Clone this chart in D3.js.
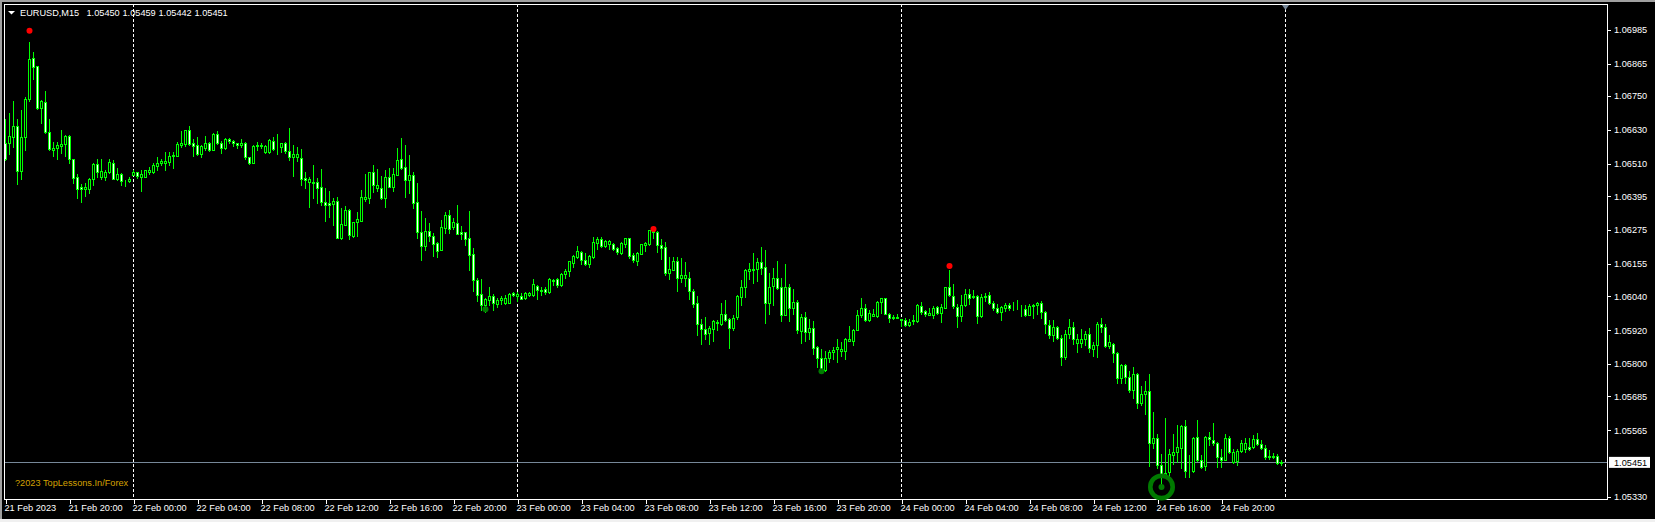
<!DOCTYPE html>
<html><head><meta charset="utf-8">
<script src="https://cdn.jsdelivr.net/npm/d3@7"></script>
<style>html,body{margin:0;padding:0;background:#000;overflow:hidden}svg{display:block}text{font-family:"Liberation Sans",Arial,sans-serif;font-size:9.2px;fill:#fff}</style>
</head><body><svg id="c" width="1655" height="522"></svg>
<script>
// EURUSD M15 prices, in points after 1.00000 (6585 = 1.06585)
const opens=[6585,6584,6604,6645,6485,6605,6739,6883,6855,6708,6727,6621,6559,6566,6573,6580,6608,6525,6461,6426,6421,6421,6456,6508,6463,6462,6481,6514,6456,6475,6450,6450,6470,6479,6463,6463,6482,6482,6502,6513,6513,6517,6538,6538,6577,6580,6628,6585,6575,6546,6567,6585,6559,6614,6585,6566,6599,6592,6582,6577,6585,6532,6513,6576,6571,6552,6552,6590,6567,6570,6582,6556,6532,6532,6529,6458,6446,6445,6444,6426,6375,6369,6368,6377,6248,6294,6345,6254,6304,6308,6386,6387,6479,6425,6425,6390,6462,6429,6471,6525,6497,6453,6469,6373,6267,6219,6270,6255,6228,6205,6283,6327,6284,6298,6267,6267,6245,6189,6096,6047,6010,6025,6042,6014,6027,6017,6017,6051,6040,6042,6034,6045,6044,6078,6060,6065,6055,6099,6100,6080,6119,6129,6157,6178,6198,6170,6153,6178,6228,6242,6217,6226,6224,6211,6192,6224,6245,6185,6165,6190,6222,6224,6274,6269,6223,6213,6123,6133,6166,6105,6105,6106,6060,6017,5943,5925,5910,5923,5944,5942,5978,5961,5928,5967,6038,6072,6131,6134,6137,6163,6145,6015,6075,6103,6071,5974,6071,5999,6021,5917,5968,5913,5929,5861,5822,5779,5821,5842,5853,5846,5846,5881,5881,5920,5973,6000,5956,5970,5970,6020,6032,5978,5963,5963,5958,5957,5938,5952,5952,6007,5986,5974,5974,6003,5981,6000,6071,6042,6003,5970,6009,6049,6036,6042,5970,6037,6043,6017,6000,5984,5998,6010,6000,5996,5996,5993,5974,6007,6009,6017,5985,5939,5903,5932,5893,5825,5906,5932,5874,5874,5889,5907,5852,5866,5943,5932,5863,5872,5840,5750,5797,5755,5708,5766,5662,5695,5705,5520,5539,5443,5399,5417,5476,5488,5503,5579,5419,5419,5542,5461,5437,5542,5532,5521,5471,5459,5539,5452,5455,5491,5498,5507,5506,5535,5517,5503,5470,5475,5475,5450];
const highs=[6670,6688,6732,6670,6700,6747,6941,6906,6857,6735,6767,6667,6588,6588,6629,6611,6611,6527,6475,6437,6442,6459,6511,6525,6525,6487,6525,6523,6493,6478,6451,6461,6487,6481,6487,6489,6499,6511,6534,6525,6550,6550,6550,6588,6625,6629,6643,6596,6603,6576,6608,6588,6619,6625,6590,6601,6602,6593,6583,6599,6588,6534,6575,6588,6584,6576,6598,6604,6615,6584,6588,6635,6576,6570,6562,6482,6464,6505,6458,6490,6423,6413,6387,6391,6352,6360,6348,6304,6338,6417,6473,6482,6505,6490,6466,6488,6494,6494,6565,6601,6576,6541,6479,6440,6342,6317,6298,6263,6233,6310,6338,6346,6316,6364,6289,6269,6342,6210,6103,6100,6032,6071,6048,6032,6041,6044,6051,6056,6055,6053,6055,6054,6100,6079,6071,6071,6104,6100,6105,6123,6136,6165,6185,6217,6201,6194,6185,6249,6249,6249,6239,6241,6228,6215,6232,6246,6246,6195,6197,6225,6234,6275,6282,6272,6242,6231,6179,6179,6179,6176,6162,6125,6064,6040,5958,5967,5934,5955,5955,6016,6026,5964,5973,6044,6097,6135,6158,6194,6177,6213,6203,6123,6140,6164,6103,6153,6085,6067,6026,5976,5983,5961,5951,5864,5854,5845,5851,5860,5887,5878,5892,5933,5925,5990,6032,6012,5990,5996,6023,6033,6034,5982,5973,5976,5959,5962,5958,5973,6012,6019,5990,6000,6004,6007,6012,6073,6134,6082,6012,6043,6065,6065,6061,6043,6047,6052,6054,6022,6011,6004,6016,6016,6019,6026,6010,6008,6014,6011,6020,6022,5986,5955,5955,5933,5902,5919,5958,5948,5907,5923,5916,5929,5876,5948,5962,5943,5902,5874,5842,5798,5798,5774,5788,5769,5721,5740,5766,5630,5553,5480,5610,5500,5553,5582,5582,5600,5476,5540,5600,5476,5543,5559,5592,5523,5500,5553,5543,5500,5500,5532,5539,5539,5547,5556,5529,5511,5494,5485,5480,5459];
const lows=[6522,6546,6570,6437,6455,6558,6733,6810,6703,6653,6617,6558,6537,6527,6549,6537,6513,6442,6387,6375,6395,6407,6434,6463,6457,6452,6478,6455,6452,6434,6430,6446,6470,6459,6414,6461,6475,6478,6487,6505,6487,6505,6495,6537,6570,6573,6577,6537,6541,6534,6560,6556,6558,6579,6549,6563,6584,6573,6564,6569,6527,6508,6511,6558,6564,6549,6549,6558,6543,6552,6549,6522,6466,6520,6434,6423,6358,6387,6369,6364,6307,6320,6293,6246,6242,6291,6242,6250,6254,6306,6379,6369,6410,6413,6386,6356,6426,6413,6469,6492,6392,6405,6354,6248,6170,6204,6237,6183,6180,6204,6265,6263,6277,6261,6242,6222,6133,6058,6023,5991,5985,6009,5991,6003,6011,6012,6015,6041,6022,6029,6029,6042,6042,6029,6044,6047,6053,6079,6072,6078,6105,6111,6142,6174,6156,6150,6143,6176,6209,6214,6214,6209,6205,6191,6189,6215,6174,6162,6150,6189,6200,6221,6246,6196,6171,6114,6100,6132,6058,6090,6075,6029,6001,5902,5870,5887,5870,5880,5919,5937,5951,5856,5919,5958,6008,6036,6100,6087,6094,6118,5945,5978,6008,6067,5951,5973,5951,5976,5910,5874,5880,5887,5834,5788,5772,5774,5807,5818,5807,5827,5819,5881,5866,5919,5967,5952,5952,5969,5967,5982,5976,5948,5958,5962,5934,5934,5936,5941,5950,5978,5969,5973,5963,5978,5948,5997,6040,6000,5930,5951,6004,6014,6032,5945,5965,6022,6014,5990,5982,5955,5987,5990,5990,5994,5969,5970,5972,5962,5978,5962,5911,5893,5880,5889,5795,5816,5891,5871,5841,5859,5866,5841,5827,5825,5912,5859,5855,5806,5731,5731,5731,5699,5678,5642,5655,5624,5437,5502,5432,5370,5398,5402,5446,5452,5432,5399,5399,5417,5455,5432,5423,5511,5511,5435,5435,5458,5484,5449,5441,5488,5488,5494,5503,5514,5500,5464,5464,5468,5446,5442];
const closes=[6527,6608,6643,6485,6604,6741,6880,6854,6708,6731,6621,6563,6567,6575,6578,6608,6527,6460,6421,6421,6429,6457,6508,6481,6485,6482,6515,6457,6475,6448,6448,6454,6482,6467,6472,6486,6487,6505,6514,6518,6519,6537,6541,6579,6582,6628,6579,6573,6545,6572,6585,6559,6615,6584,6566,6599,6590,6582,6577,6585,6532,6511,6572,6573,6575,6571,6593,6563,6564,6582,6554,6534,6543,6544,6457,6453,6455,6443,6424,6375,6365,6365,6377,6248,6295,6345,6258,6302,6313,6391,6391,6479,6436,6436,6390,6462,6429,6472,6522,6496,6453,6469,6372,6269,6219,6270,6255,6226,6202,6284,6327,6278,6302,6262,6262,6244,6187,6099,6045,6010,6029,6042,6017,6025,6034,6032,6048,6044,6049,6031,6051,6051,6083,6062,6062,6055,6100,6094,6079,6120,6129,6164,6183,6200,6169,6153,6182,6231,6242,6217,6235,6235,6208,6196,6228,6245,6183,6168,6192,6224,6227,6274,6269,6222,6211,6122,6135,6164,6105,6114,6114,6059,6013,5942,5924,5906,5926,5951,5948,5978,5955,5928,5964,6042,6071,6132,6135,6138,6163,6140,6015,6074,6103,6068,5974,6071,5999,6021,5920,5968,5913,5929,5857,5821,5781,5822,5844,5851,5859,5854,5887,5890,5922,5975,6000,5955,5982,5978,6021,6032,5977,5964,5968,5968,5956,5937,5950,5955,6008,5983,5978,5982,6000,5981,6003,6071,6043,6004,5970,6010,6049,6033,6040,5970,6039,6042,6016,5998,5984,6001,6008,5997,5997,5995,5993,5972,6007,6010,6017,5984,5942,5902,5932,5892,5825,5907,5932,5890,5890,5890,5907,5857,5868,5943,5931,5863,5876,5839,5750,5797,5754,5708,5766,5662,5695,5705,5520,5539,5442,5405,5414,5482,5489,5507,5579,5420,5422,5539,5458,5435,5542,5534,5519,5470,5459,5539,5489,5489,5493,5521,5521,5498,5535,5516,5503,5469,5475,5471,5449,5451];
const priceTicks=[1.06985,1.06865,1.06750,1.06630,1.06510,1.06395,1.06275,1.06155,1.06040,1.05920,1.05800,1.05685,1.05565,1.05330];
const timeTickIdx=[0,16,32,48,64,80,96,112,128,144,160,176,192,208,224,240,256,272,288,304];
const timeLabels=["21 Feb 2023","21 Feb 20:00","22 Feb 00:00","22 Feb 04:00","22 Feb 08:00","22 Feb 12:00","22 Feb 16:00","22 Feb 20:00","23 Feb 00:00","23 Feb 04:00","23 Feb 08:00","23 Feb 12:00","23 Feb 16:00","23 Feb 20:00","24 Feb 00:00","24 Feb 04:00","24 Feb 08:00","24 Feb 12:00","24 Feb 16:00","24 Feb 20:00"];
const separatorIdx=[32,128,224,320];
const fractalHighIdx=[6,162,236], fractalHighPts=[6981,6278,6147];
const fractalLowIdx=[120,204,289], fractalLowPts=[5994,5774,5364];
const ringIdx=[289], ringPts=[5364];
const lastPrice=1.05451, symbolText="EURUSD,M15";
const ohlcText=["1.05450","1.05459","1.05442","1.05451"];
const watermark="?2023 TopLessons.In/Forex";

const px=p=>1+p*1e-5;
const L=5,R=1608,T=4,B=499.5;
const x=d3.scaleLinear().domain([0,319]).range([5.5,1281.5]);
const y=d3.scaleLinear().domain([1.0533,1.06985]).range([496.5,29.7]);
const snap=v=>Math.round(v)+.5;
const svg=d3.select("#c");
svg.append("rect").attr("width",1655).attr("height",522).attr("fill","#000");
svg.append("rect").attr("width",1655).attr("height",2).attr("fill","#a0a0a0");
svg.append("rect").attr("width",2).attr("height",522).attr("fill","#a0a0a0");
svg.append("rect").attr("y",519).attr("width",1655).attr("height",3).attr("fill","#f0f0f0");

const crisp=svg.append("g").attr("shape-rendering","crispEdges");
// separators + current price line (behind candles)
crisp.selectAll("line.sep").data(separatorIdx).join("line").attr("class","sep")
 .attr("x1",d=>x(d)).attr("x2",d=>x(d)).attr("y1",T).attr("y2",B)
 .attr("stroke","#fff").attr("stroke-dasharray","3,2");
crisp.append("line").attr("x1",L).attr("x2",R).attr("y1",snap(y(lastPrice))).attr("y2",snap(y(lastPrice))).attr("stroke","#778899");

const idx=d3.range(opens.length);
crisp.selectAll("line.wick").data(idx).join("line").attr("class","wick")
 .attr("x1",i=>x(i)).attr("x2",i=>x(i))
 .attr("y1",i=>Math.round(y(px(highs[i])))).attr("y2",i=>Math.round(y(px(lows[i])))+1)
 .attr("stroke","#00ff00");
crisp.selectAll("rect.body").data(idx).join("rect").attr("class","body")
 .attr("x",i=>x(i)-1).attr("width",2)
 .attr("y",i=>snap(y(px(Math.max(opens[i],closes[i])))))
 .attr("height",i=>Math.max(0,snap(y(px(Math.min(opens[i],closes[i]))))-snap(y(px(Math.max(opens[i],closes[i]))))))
 .attr("fill",i=>closes[i]>=opens[i]?"#000":"#fff")
 .attr("stroke","#00ff00");

// markers
svg.selectAll("circle.hi").data(fractalHighIdx).join("circle").attr("class","hi")
 .attr("cx",d=>x(d)).attr("cy",(d,i)=>y(px(fractalHighPts[i]))).attr("r",3).attr("fill","#ff0000");
svg.selectAll("circle.lo").data(fractalLowIdx).join("circle").attr("class","lo")
 .attr("cx",d=>x(d)).attr("cy",(d,i)=>y(px(fractalLowPts[i]))).attr("r",3).attr("fill","#007a00");
svg.selectAll("circle.ring").data(ringIdx).join("circle").attr("class","ring")
 .attr("cx",d=>x(d)).attr("cy",(d,i)=>y(px(ringPts[i]))).attr("r",11.2).attr("fill","none").attr("stroke","#007a00").attr("stroke-width",4.6);

// frame
crisp.append("path").attr("d",`M${L-.5},${T+.5}H${R-.5}V${B}H${L-.5}Z`).attr("fill","none").attr("stroke","#fff");
// separator tag on top
svg.append("path").datum(320).attr("d",d=>`M${x(d)-3.5},${T+1}h7l-3.5,5z`).attr("fill","#778899");

// axes
const yAxis=svg.append("g").attr("transform",`translate(${R},0)`)
 .call(d3.axisRight(y).tickValues(priceTicks).tickFormat(d3.format(".5f")).tickSize(3).tickPadding(3));
const xAxis=svg.append("g").attr("transform",`translate(0,${B})`)
 .call(d3.axisBottom(x).tickValues(timeTickIdx).tickFormat((d,i)=>timeLabels[i]).tickSize(4).tickPadding(0));
[yAxis,xAxis].forEach(a=>{a.attr("font-family",null).attr("font-size",null);a.select(".domain").remove();a.selectAll("line").attr("stroke","#fff").attr("shape-rendering","crispEdges");a.selectAll("text").attr("fill","#fff")});
xAxis.selectAll("text").attr("text-anchor","start").attr("dx",-1.5).attr("y",5).attr("dy","0.71em");

// current price label
svg.append("rect").attr("x",1609).attr("y",y(lastPrice)-5.5).attr("width",41).attr("height",11).attr("fill","#fff");
svg.append("text").attr("x",1614).attr("y",y(lastPrice)+3.3).text(d3.format(".5f")(lastPrice)).style("fill","#000");

// header
svg.append("path").attr("d","M8,11h7l-3.5,3.5z").attr("fill","#fff");
svg.append("text").attr("x",20).attr("y",16).text(symbolText);
svg.selectAll("text.ohlc").data(ohlcText).join("text").attr("class","ohlc")
 .attr("x",(d,i)=>86.5+i*36).attr("y",16).text(d=>d);
svg.append("text").attr("x",15).attr("y",486).text(watermark).style("fill","#d4a000");
</script></body></html>
